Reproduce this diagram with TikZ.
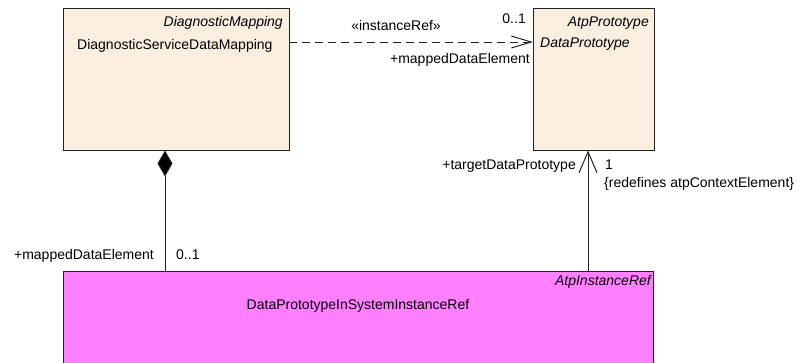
\documentclass[tikz,border=0pt]{standalone}
\usepackage{fontspec}
\setmainfont{Liberation Sans}
\usetikzlibrary{arrows.meta,calc}
\definecolor{beige}{HTML}{F9EEE0}
\definecolor{pinkbox}{HTML}{FF80FF}
\definecolor{ln}{HTML}{222222}
\tikzset{
  umlbox/.style={draw=ln, line width=1pt, inner sep=0pt, outer sep=0pt, anchor=north west},
  lbl/.style={inner sep=0pt, font=\fontsize{14}{16}\selectfont},
  itl/.style={inner sep=0pt, font=\fontsize{14}{16}\selectfont\itshape},
  conn/.style={draw=ln, line width=1pt},
}
\begin{document}
\begin{tikzpicture}[x=1pt,y=-1pt]
\useasboundingbox (0,0) rectangle (798,362);
% boxes
\node[umlbox, fill=beige, minimum width=226pt, minimum height=142pt] (dsdm) at (63,8.5) {};
\node[umlbox, fill=beige, minimum width=121pt, minimum height=142pt] (dp) at (533,8.5) {};
\node[umlbox, fill=pinkbox, minimum width=590pt, minimum height=120pt] (iref) at (63,271) {};
% box texts
\node[itl, anchor=base east] at ($(dsdm.north east)+(-6,17.5)$) {DiagnosticMapping};
\node[lbl, anchor=base west] at ($(dsdm.north west)+(14,41)$) {DiagnosticServiceDataMapping};
\node[itl, anchor=base east] at ($(dp.north east)+(-5,17.5)$) {AtpPrototype};
\node[itl, anchor=base west] at ($(dp.north west)+(7,38.5)$) {DataPrototype};
\node[itl, anchor=base east] at ($(iref.north east)+(-2,14.5)$) {AtpInstanceRef};
\node[lbl, anchor=base] at ($(iref.north west)+(295,38)$) {DataPrototypeInSystemInstanceRef};
% helper coordinates
\coordinate (hy) at (0,42);
\coordinate (cx) at (165,0);
\coordinate (vx) at (588,0);
% dashed instanceRef
\draw[conn, dash pattern=on 8pt off 5pt, -{Straight Barb[length=20pt,width=12pt,line width=1pt]}] (hy -| dsdm.east) -- (hy -| dp.west);
\node[lbl, anchor=base] at (396,30) {«instanceRef»};
\node[lbl, anchor=base east] at (526,23) {0..1};
\node[lbl, anchor=base east] at (530,63) {+mappedDataElement};
% composition
\draw[conn, {Diamond[length=26pt,width=15pt,fill=black]}-] (cx |- dsdm.south) -- (cx |- iref.north);
\node[lbl, anchor=base east] at (154,259) {+mappedDataElement};
\node[lbl, anchor=base west] at (176,259) {0..1};
% target
\draw[conn, -{Straight Barb[length=21pt,width=18pt,line width=1pt]}] (vx |- iref.north) -- (vx |- dp.south);
\node[lbl, anchor=base east] at (576,169) {+targetDataPrototype};
\node[lbl, anchor=base west] at (605,169) {1};
\node[lbl, anchor=base west] at (604,187) {\{redefines atpContextElement\}};
\end{tikzpicture}
\end{document}
